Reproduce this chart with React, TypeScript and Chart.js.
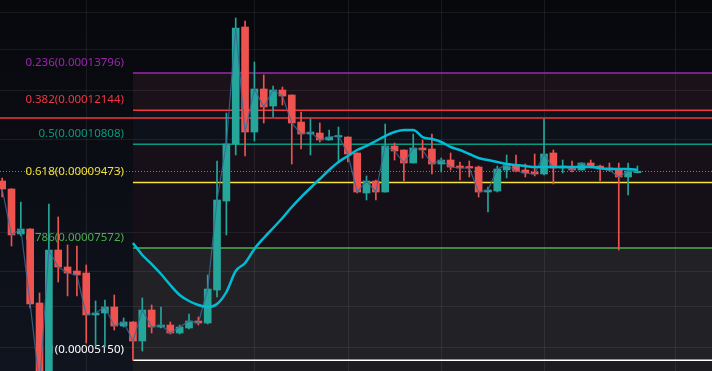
import React, { useEffect, useRef } from "react";
import { Chart, registerables } from "chart.js";

Chart.register(...registerables);

// ---- candle data (index = candle number) ----
const opens = [
  9.526e-5, 9.268e-5, 7.943e-5, 8.08e-5, 6.269e-5, 4.732e-5, 7.519e-5, 7.093e-5, 6.996e-5, 6.948e-5,
  6.017e-5, 6.058e-5, 6.184e-5, 5.793e-5, 5.874e-5, 5.503e-5, 6.12e-5, 5.773e-5, 5.813e-5, 5.656e-5,
  5.754e-5, 5.894e-5, 5.853e-5, 6.555e-5, 8.894e-5, 10.815e-5, 16.154e-5, 11.268e-5, 13.06e-5, 12.32e-5,
  13.015e-5, 12.793e-5, 11.661e-5, 11.192e-5, 11.23e-5, 10.964e-5, 11.077e-5, 11.077e-5, 10.486e-5, 9.142e-5,
  9.526e-5, 9.173e-5, 10.741e-5, 10.595e-5, 10.132e-5, 10.668e-5, 10.631e-5, 10.097e-5, 10.237e-5, 10.028e-5,
  9.994e-5, 9.994e-5, 9.173e-5, 9.205e-5, 9.892e-5, 10.063e-5, 9.892e-5, 9.824e-5, 9.757e-5, 10.486e-5,
  9.96e-5, 9.994e-5, 9.892e-5, 10.132e-5, 10.028e-5, 9.96e-5, 9.926e-5, 9.658e-5, 9.8e-5,
];
const highs = [
  9.625e-5, 9.28e-5, 8.864e-5, 8.09e-5, 6.488e-5, 8.804e-5, 8.42e-5, 7.649e-5, 7.623e-5, 7.142e-5,
  6.312e-5, 6.334e-5, 6.444e-5, 5.955e-5, 5.88e-5, 6.378e-5, 6.226e-5, 6.184e-5, 5.874e-5, 5.813e-5,
  6.037e-5, 5.975e-5, 6.901e-5, 10.202e-5, 12.027e-5, 16.66e-5, 16.489e-5, 14.327e-5, 13.702e-5, 13.194e-5,
  13.149e-5, 12.8e-5, 12.069e-5, 11.782e-5, 11.622e-5, 11.346e-5, 11.464e-5, 11.08e-5, 10.49e-5, 9.691e-5,
  9.559e-5, 11.582e-5, 10.852e-5, 10.6e-5, 11.192e-5, 10.964e-5, 11.192e-5, 10.308e-5, 10.486e-5, 10.167e-5,
  10.202e-5, 10.028e-5, 9.332e-5, 10.028e-5, 10.415e-5, 10.415e-5, 10.097e-5, 10.45e-5, 11.782e-5, 10.595e-5,
  10.237e-5, 10.202e-5, 10.14e-5, 10.237e-5, 10.063e-5, 10.132e-5, 10.132e-5, 10.132e-5, 10.028e-5,
];
const lows = [
  9.017e-5, 7.623e-5, 7.889e-5, 6.163e-5, 4.573e-5, 4.66e-5, 6.737e-5, 6.422e-5, 6.422e-5, 5.465e-5,
  5.409e-5, 5.391e-5, 5.714e-5, 5.773e-5, 5.15e-5, 5.317e-5, 5.656e-5, 5.754e-5, 5.637e-5, 5.637e-5,
  5.734e-5, 5.813e-5, 5.833e-5, 6.4e-5, 7.916e-5, 10.415e-5, 10.379e-5, 10.926e-5, 11.622e-5, 11.863e-5,
  12.362e-5, 10.097e-5, 10.631e-5, 10.415e-5, 10.889e-5, 10.96e-5, 10.132e-5, 10.167e-5, 9.142e-5, 8.925e-5,
  8.925e-5, 9.17e-5, 10.237e-5, 9.526e-5, 10.13e-5, 10.308e-5, 9.757e-5, 9.824e-5, 9.892e-5, 9.559e-5,
  9.658e-5, 9.017e-5, 8.566e-5, 9.173e-5, 9.625e-5, 9.824e-5, 9.658e-5, 9.691e-5, 9.724e-5, 9.429e-5,
  9.791e-5, 9.824e-5, 9.89e-5, 9.96e-5, 9.526e-5, 9.858e-5, 7.519e-5, 9.079e-5, 9.79e-5,
];
const closes = [
  9.268e-5, 7.916e-5, 8.08e-5, 6.248e-5, 4.732e-5, 7.519e-5, 7.093e-5, 6.948e-5, 6.901e-5, 6.017e-5,
  6.058e-5, 6.184e-5, 5.793e-5, 5.874e-5, 5.503e-5, 6.12e-5, 5.773e-5, 5.813e-5, 5.656e-5, 5.773e-5,
  5.894e-5, 5.853e-5, 6.577e-5, 8.925e-5, 10.815e-5, 16.099e-5, 11.268e-5, 13.06e-5, 12.278e-5, 13.015e-5,
  12.749e-5, 11.622e-5, 11.192e-5, 11.268e-5, 10.964e-5, 11.077e-5, 11.115e-5, 10.45e-5, 9.173e-5, 9.526e-5,
  9.173e-5, 10.741e-5, 10.558e-5, 10.132e-5, 10.668e-5, 10.595e-5, 10.097e-5, 10.237e-5, 9.994e-5, 9.96e-5,
  9.96e-5, 9.173e-5, 9.236e-5, 9.926e-5, 10.063e-5, 9.858e-5, 9.791e-5, 9.757e-5, 10.45e-5, 9.96e-5,
  10.028e-5, 9.892e-5, 10.132e-5, 9.994e-5, 9.926e-5, 9.892e-5, 9.658e-5, 9.858e-5, 9.85e-5,
];

// ---- moving average (starts at candle 14) ----
const maStartIndex = 14;
const maValues = [
  7.702e-5, 7.391e-5, 7.166e-5, 6.924e-5, 6.668e-5, 6.444e-5, 6.312e-5, 6.226e-5, 6.184e-5, 6.248e-5,
  6.51e-5, 6.996e-5, 7.191e-5, 7.545e-5, 7.835e-5, 8.108e-5, 8.391e-5, 8.714e-5, 9.017e-5, 9.3e-5,
  9.592e-5, 9.892e-5, 10.167e-5, 10.379e-5, 10.595e-5, 10.741e-5, 10.926e-5, 11.115e-5, 11.268e-5, 11.346e-5,
  11.346e-5, 11.077e-5, 11.001e-5, 10.889e-5, 10.704e-5, 10.595e-5, 10.45e-5, 10.308e-5, 10.237e-5, 10.167e-5,
  10.097e-5, 10.063e-5, 10.028e-5, 9.994e-5, 9.994e-5, 9.994e-5, 9.994e-5, 9.994e-5, 9.994e-5, 9.994e-5,
  9.96e-5, 9.926e-5, 9.926e-5, 9.926e-5, 9.892e-5,
];

// ---- fibonacci retracement ----
const fibRatios = ["0.236", "0.382", "0.5", "0.618", "0.786", "1"];
const fibPrices = [0.00013796, 0.00012144, 0.00010808, 0.00009473, 0.00007572, 0.0000515];
const fibColors = ["#9c27b0", "#f23645", "#089981", "#f5e23a", "#4caf50", "#ffffff"];
const fibBandColors = ["#1b1119", "#0d1119", "#171018", "#151017", "#222226"];
const fibBelowColor = "#1d1d21";
const fibStartIndex = 14;

// ---- other drawings / grid ----
const horizontalLinePrice = 0.0001182;
const gridPrices = [0.00017, 0.00015, 0.00013, 0.00011, 0.00008, 0.00007, 0.000062, 0.000054];
const gridIndices = [9, 27, 37, 47, 58, 72];
const xRange = [-0.231, 75.98];
const yRange = [0.00004965, 0.00017721];

const UP = "#26a69a";
const DOWN = "#ef5350";

const drawPlugin = {
  id: "tvDecor",
  beforeDraw(chart: any) {
    const { ctx, width, height } = chart;
    const g = ctx.createLinearGradient(0, 0, 0, height);
    g.addColorStop(0, "#07080c");
    g.addColorStop(1, "#10141e");
    ctx.save();
    ctx.fillStyle = g;
    ctx.fillRect(0, 0, width, height);
    ctx.restore();
  },
  beforeDatasetsDraw(chart: any) {
    const { ctx, chartArea } = chart;
    const x = chart.scales.x;
    const y = chart.scales.y;
    const x0 = x.getPixelForValue(fibStartIndex);
    const right = chartArea.right;
    ctx.save();
    // bands
    for (let i = 0; i < fibBandColors.length; i++) {
      const yt = y.getPixelForValue(fibPrices[i]);
      const yb = y.getPixelForValue(fibPrices[i + 1]);
      ctx.fillStyle = fibBandColors[i];
      ctx.fillRect(x0, yt, right - x0, yb - yt);
    }
    const yLast = y.getPixelForValue(fibPrices[fibPrices.length - 1]);
    ctx.fillStyle = fibBelowColor;
    ctx.fillRect(x0, yLast, right - x0, chartArea.bottom - yLast);

    // grid
    ctx.strokeStyle = "rgba(255,255,255,0.07)";
    ctx.lineWidth = 1;
    gridPrices.forEach((p) => {
      const py = Math.round(y.getPixelForValue(p)) + 0.5;
      ctx.beginPath();
      ctx.moveTo(chartArea.left, py);
      ctx.lineTo(right, py);
      ctx.stroke();
    });
    gridIndices.forEach((i) => {
      const px = Math.round(x.getPixelForValue(i)) + 0.5;
      ctx.beginPath();
      ctx.moveTo(px, chartArea.top);
      ctx.lineTo(px, chartArea.bottom);
      ctx.stroke();
    });

    // full-width horizontal line
    const hy = y.getPixelForValue(horizontalLinePrice);
    ctx.strokeStyle = "#f23645";
    ctx.lineWidth = 1.5;
    ctx.beginPath();
    ctx.moveTo(chartArea.left, hy);
    ctx.lineTo(right, hy);
    ctx.stroke();

    // fib lines and labels
    ctx.font = '11.5px "Noto Sans", sans-serif';
    ctx.textAlign = "right";
    ctx.textBaseline = "middle";
    fibPrices.forEach((p, i) => {
      const py = y.getPixelForValue(p);
      ctx.strokeStyle = fibColors[i];
      ctx.lineWidth = 1.5;
      ctx.beginPath();
      ctx.moveTo(x0, py);
      ctx.lineTo(right, py);
      ctx.stroke();
      ctx.fillStyle = fibColors[i];
      ctx.fillText(`${fibRatios[i]}(${p.toFixed(8)})`, x0 - 9, py - 10.5);
    });

    // last price dotted line
    const lastClose = closes[closes.length - 1];
    const ly = Math.round(y.getPixelForValue(lastClose)) + 0.5;
    ctx.strokeStyle = "#2fa39a";
    ctx.lineWidth = 1;
    ctx.setLineDash([1, 2]);
    ctx.beginPath();
    ctx.moveTo(chartArea.left, ly);
    ctx.lineTo(right, ly);
    ctx.stroke();
    ctx.setLineDash([]);
    ctx.restore();
  },
};

export default function App() {
  const ref = useRef<HTMLCanvasElement | null>(null);
  useEffect(() => {
    document.body.style.margin = "0";
    const canvas = ref.current;
    if (!canvas) return;
    const idx = opens.map((_, i) => i);
    const colors = idx.map((i) => (closes[i] >= opens[i] ? UP : DOWN));
    const chart = new Chart(canvas, {
      type: "bar",
      data: {
        datasets: [
          {
            type: "line",
            data: maValues.map((v, j) => ({ x: maStartIndex + j, y: v })),
            borderColor: "#00bcd4",
            borderWidth: 2.5,
            pointRadius: 0,
            tension: 0.4,
            cubicInterpolationMode: "monotone",
            order: 1,
          } as any,
          {
            type: "line",
            data: idx.map((i) => ({ x: i, y: closes[i] })),
            borderColor: "rgba(56,104,150,0.85)",
            borderWidth: 1.2,
            pointRadius: 0,
            tension: 0,
            order: 2,
          } as any,
          {
            type: "bar",
            data: idx.map((i) => ({ x: i, y: [opens[i], closes[i]] })),
            backgroundColor: colors,
            barThickness: 7,
            minBarLength: 1.5,
            grouped: false,
            order: 3,
          } as any,
          {
            type: "bar",
            data: idx.map((i) => ({ x: i, y: [lows[i], highs[i]] })),
            backgroundColor: colors,
            barThickness: 1,
            grouped: false,
            order: 4,
          } as any,
        ],
      },
      options: {
        responsive: false,
        animation: false,
        events: [],
        layout: { padding: 0 },
        plugins: { legend: { display: false }, tooltip: { enabled: false } },
        scales: {
          x: { type: "linear", min: xRange[0], max: xRange[1], display: false, offset: false },
          y: { type: "logarithmic", min: yRange[0], max: yRange[1], display: false },
        },
      } as any,
      plugins: [drawPlugin],
    });
    return () => chart.destroy();
  }, []);
  return (
    <div style={{ width: 712, height: 371 }}>
      <canvas ref={ref} width={712} height={371} style={{ display: "block", width: 712, height: 371 }} />
    </div>
  );
}
